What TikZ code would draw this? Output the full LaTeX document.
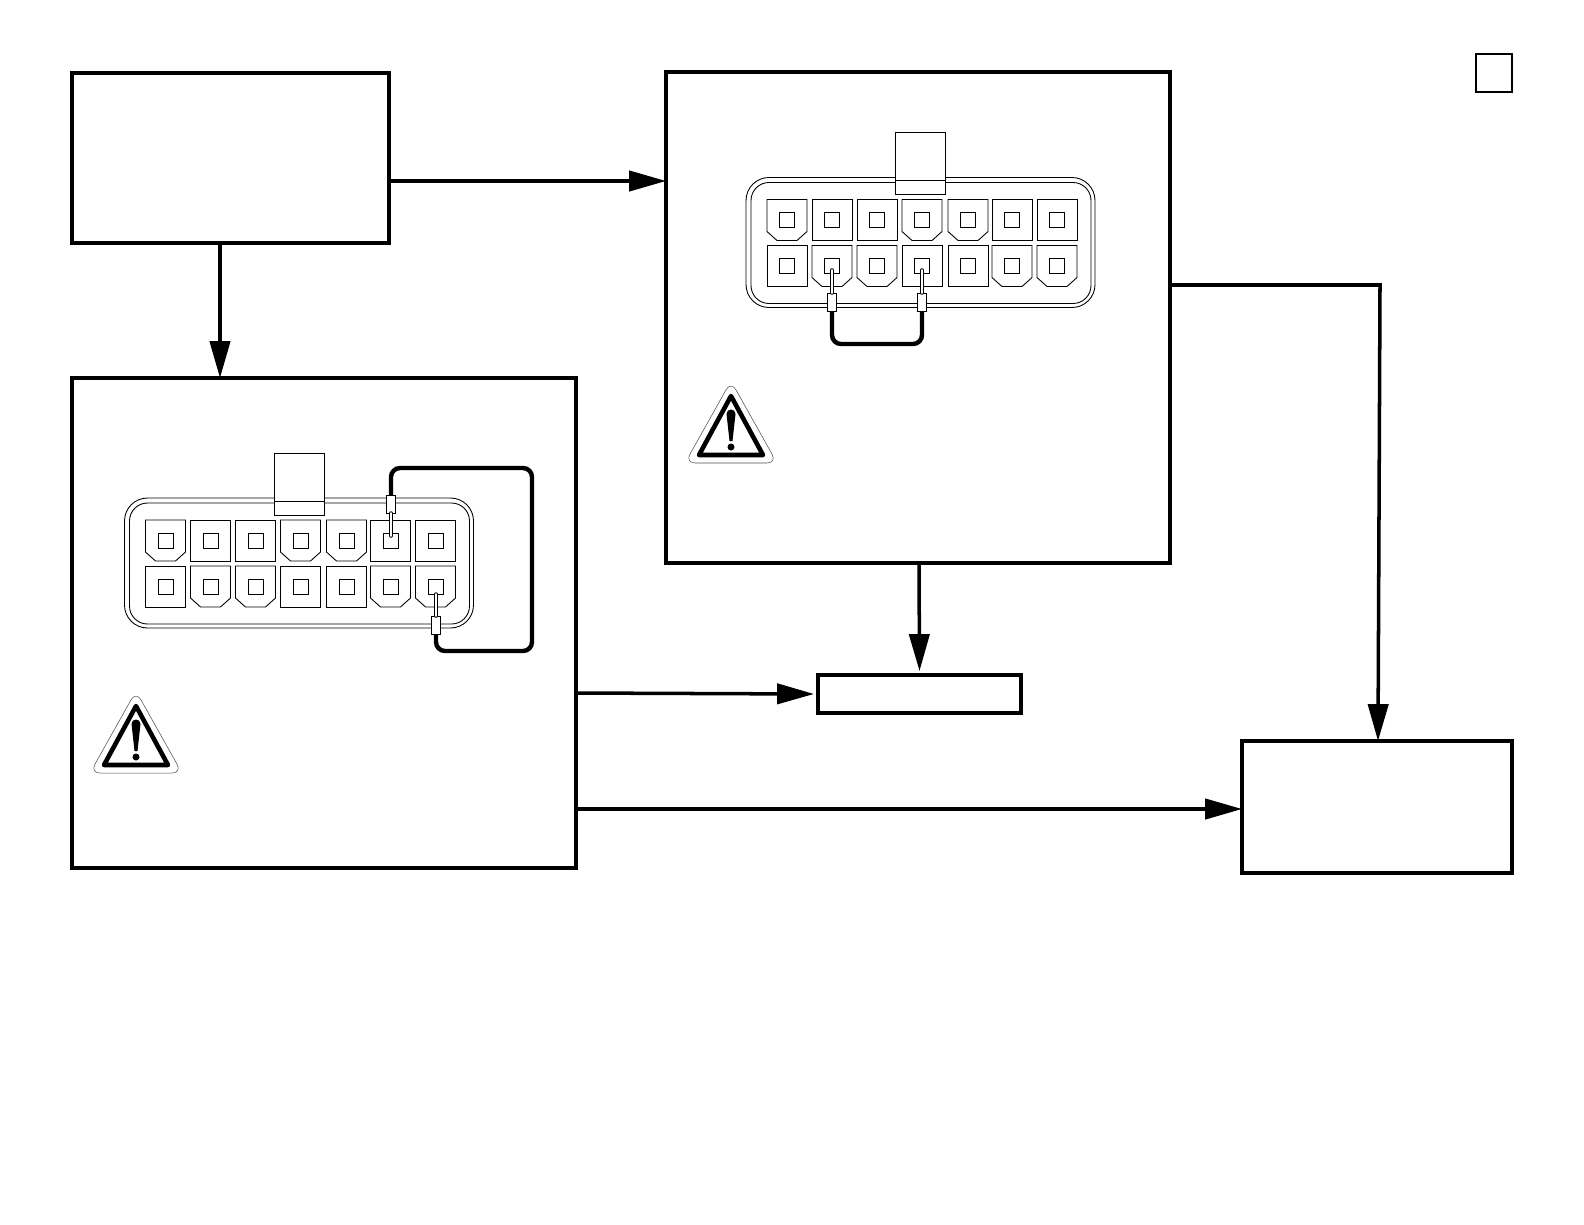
\documentclass[tikz,border=0pt]{standalone}
\usepackage{tikz}
\usetikzlibrary{arrows.meta, positioning}

\tikzset{
  flowbox/.style={draw, rectangle, line width=2pt, outer sep=0pt, inner sep=0pt},
  flow/.style={line width=2pt, -{Triangle[length=21pt,width=11.5pt]}},
  thinline/.style={line width=0.5pt},
  sleeve/.style={draw, fill=white, rectangle, line width=0.55pt, outer sep=0pt, inner sep=0pt, minimum width=0.17cm, minimum height=0.36cm},
  jumper/.style={line width=2.5pt, rounded corners=0.18cm},
  pinwire/.style={draw=black, double=white, line width=0.45pt, double distance=1.1pt, line cap=round},
  % 14 way socket, origin at the top left of its shell
  socket/.pic={
    \draw[thinline, rounded corners=0.46cm] (0,0) rectangle (349,130);
    \draw[thinline, rounded corners=0.36cm] (5,5) rectangle (345,126);
    \draw[thinline, fill=white] (149.5,-45) -- (199.5,-45) -- (199.5,17) -- (149.5,17) -- cycle;
    \draw[thinline] (149.5,3) -- (199.5,3);
    % square cavities
    \foreach \cx/\cy in {86/42.5,131/42.5,266/42.5,311/42.5,41/88.5,176/88.5,222/88.5}
      \draw[thinline] (\cx-20,\cy-20.5) -- (\cx+20,\cy-20.5) -- (\cx+20,\cy+20.5) -- (\cx-20,\cy+20.5) -- cycle;
    % keyed cavities
    \foreach \cx/\cy in {41/42.5,176/42.5,222/42.5,86/88.5,131/88.5,266/88.5,311/88.5}
      \draw[thinline] (\cx-20,\cy-20.5) -- (\cx+20,\cy-20.5) -- (\cx+20,\cy+11.5)
        -- (\cx+10,\cy+20.5) -- (\cx-10,\cy+20.5) -- (\cx-20,\cy+11.5) -- cycle;
    \foreach \cx in {41,86,131,176,222,266,311}
      \foreach \cy in {42.5,88.5}
        \draw[thinline] (\cx-7.5,\cy-7.5) -- (\cx+7.5,\cy-7.5) -- (\cx+7.5,\cy+7.5) -- (\cx-7.5,\cy+7.5) -- cycle;
  },
  % warning triangle, origin at the top of the triangle
  warnsign/.pic={
    \draw[line width=0.3pt, draw=black!70, rounded corners=0.2cm] (0,-6) -- (46,76) -- (-46,76) -- cycle;
    \draw[line width=2.6pt, line join=round] (0,9) -- (32,68) -- (-32,68) -- cycle;
    \fill (-4.5,27) .. controls (-4.5,21) and (4.5,21) .. (4.5,27) -- (1.5,54) -- (-1.5,54) -- cycle;
    \fill (0,60) circle (3.5);
  }
}

\begin{document}
\begin{tikzpicture}[x=0.02cm, y=-0.02cm]
\useasboundingbox (0,0) rectangle (1584,1224);

% Define boxes
\node[flowbox, minimum width=6.34cm, minimum height=3.4cm] (start) at (230.5,158) {};
\node[flowbox, minimum width=10.08cm, minimum height=9.82cm] (upper) at (918,317.5) {};
\node[flowbox, minimum width=10.08cm, minimum height=9.8cm] (lower) at (324,623) {};
\node[flowbox, minimum width=4.06cm, minimum height=0.76cm] (middle) at (919.5,694) {};
\node[flowbox, minimum width=5.4cm, minimum height=2.64cm] (finish) at (1377,807) {};
\node[draw, rectangle, line width=1pt, outer sep=0pt, minimum width=0.72cm, minimum height=0.76cm] (tag) at (1494,73) {};

% Sockets and warning signs
\pic at (746,177.5) {socket};
\pic at (124.5,498) {socket};
\pic at (731,387) {warnsign};
\pic at (136,697) {warnsign};

% Jumper in the upper box
\node[sleeve] (uppera) at (832,302) {};
\node[sleeve] (upperb) at (922,302) {};
\draw[jumper] (uppera.south) -- (uppera.south |- 0,344) -- (upperb.south |- 0,344) -- (upperb.south);
\draw[pinwire] (uppera.north) -- (uppera.north |- 0,270);
\draw[pinwire] (upperb.north) -- (upperb.north |- 0,270);

% Jumper in the lower box
\node[sleeve] (lowera) at (391,504) {};
\node[sleeve] (lowerb) at (436,625) {};
\draw[jumper] (lowera.north) -- (lowera.north |- 0,468) -- (532,468) -- (532,651) -- (lowerb.south |- 0,651) -- (lowerb.south);
\draw[pinwire] (lowera.south) -- (lowera.south |- 0,536);
\draw[pinwire] (lowerb.north) -- (lowerb.north |- 0,594);

% Draw arrows
\draw[flow] (start.east |- 0,181) -- (upper.west |- 0,181);
\draw[flow] (start.south -| 220,0) -- (lower.north -| 220,0);
\draw[flow] (upper.east |- 0,285) -- (1380,285) -- (finish.north -| 1378,0);
\draw[flow] (upper.south -| 919,0) -- ([yshift=0.08cm]middle.north);
\draw[flow] (lower.east |- 0,693) -- ([xshift=-0.08cm]middle.west);
\draw[flow] (lower.east |- 0,809) -- (finish.west |- 0,809);

\end{tikzpicture}
\end{document}
